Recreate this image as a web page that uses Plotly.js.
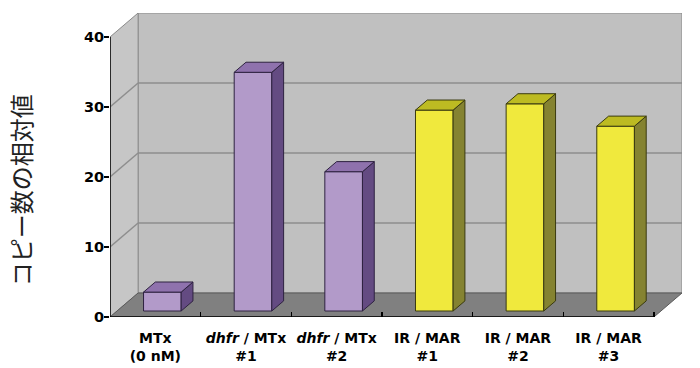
<!DOCTYPE html>
<html>
<head>
<meta charset="utf-8">
<script src="https://cdn.plot.ly/plotly-3.0.1.min.js"></script>
<style>html,body{margin:0;padding:0;background:#fff;}#chart{width:700px;height:368px;}</style>
</head>
<body>
<div id="chart"></div>
<script>
// ---- data ----
const categories = ["MTx<br>(0 nM)", "<i>dhfr</i> / MTx<br>#1", "<i>dhfr</i> / MTx<br>#2", "IR / MAR<br>#1", "IR / MAR<br>#2", "IR / MAR<br>#3"];
const values = [2.7, 34.1, 19.9, 28.7, 29.6, 26.4];
const groups = ["ctrl", "ctrl", "ctrl", "irmar", "irmar", "irmar"];
const yTicks = [0, 10, 20, 30, 40];
const yTitle = "コピー数の相対値";

// ---- styling / pseudo-3D geometry ----
const DX = 0.31, DY = 3.43;     // depth vector in data units
const F = 0.25, S = 0.42, W = 0.415;
const palette = {
  ctrl:  {front: "#b29ac9", top: "#8f72ad", side: "#644b82", edge: "#2e2240"},
  irmar: {front: "#f0e93d", top: "#bdbb22", side: "#858331", edge: "#3a3a10"}
};
const idx = categories.map((_, i) => i);
const yMax = yTicks[yTicks.length - 1];
const x0 = -0.5, x1 = categories.length - 0.5;

const traces = [];
traces.push({
  type: "bar",
  x: idx.map(i => i + F * DX),
  y: values,
  base: values.map(() => F * DY),
  width: W,
  marker: {
    color: groups.map(g => palette[g].front),
    line: {color: groups.map(g => palette[g].edge), width: 1}
  },
  hoverinfo: "skip", showlegend: false
});
values.forEach((v, i) => {
  const p = palette[groups[i]];
  const xl = i + F * DX - W / 2, xr = xl + W;
  const yb = F * DY, yt = F * DY + v;
  traces.push({
    type: "scatter", mode: "lines", fill: "toself", fillcolor: p.side,
    x: [xr, xr + S * DX, xr + S * DX, xr, xr],
    y: [yb, yb + S * DY, yt + S * DY, yt, yb],
    line: {color: p.edge, width: 1}, hoverinfo: "skip", showlegend: false
  });
  traces.push({
    type: "scatter", mode: "lines", fill: "toself", fillcolor: p.top,
    x: [xl, xr, xr + S * DX, xl + S * DX, xl],
    y: [yt, yt, yt + S * DY, yt + S * DY, yt],
    line: {color: p.edge, width: 1}, hoverinfo: "skip", showlegend: false
  });
});
// dummy trace to host the boundary tick axis
traces.push({type: "scatter", mode: "markers", x: [0], y: [0], xaxis: "x2",
  marker: {opacity: 0}, hoverinfo: "skip", showlegend: false});

const shapes = [];
// back wall
shapes.push({type: "path", layer: "below", xref: "x", yref: "y",
  path: `M ${x0+DX},${DY} L ${x1+DX},${DY} L ${x1+DX},${yMax+DY} L ${x0+DX},${yMax+DY} Z`,
  fillcolor: "#c0c0c0", line: {color: "#8a8a8a", width: 1}});
// side wall
shapes.push({type: "path", layer: "below", xref: "x", yref: "y",
  path: `M ${x0},0 L ${x0+DX},${DY} L ${x0+DX},${yMax+DY} L ${x0},${yMax} Z`,
  fillcolor: "#c6c6c6", line: {color: "#8a8a8a", width: 1}});
// floor
shapes.push({type: "path", layer: "below", xref: "x", yref: "y",
  path: `M ${x0},0 L ${x1},0 L ${x1+DX},${DY} L ${x0+DX},${DY} Z`,
  fillcolor: "#808080", line: {color: "#5a5a5a", width: 1}});
// gridlines
yTicks.slice(1, -1).forEach(t => {
  shapes.push({type: "line", layer: "below", xref: "x", yref: "y",
    x0: x0, y0: t, x1: x0 + DX, y1: t + DY, line: {color: "#8e8e8e", width: 1.5}});
  shapes.push({type: "line", layer: "below", xref: "x", yref: "y",
    x0: x0 + DX, y0: t + DY, x1: x1 + DX, y1: t + DY, line: {color: "#8e8e8e", width: 1.5}});
});
// axis lines
shapes.push({type: "line", xref: "x", yref: "y", x0: x0, y0: 0, x1: x0, y1: yMax, line: {color: "#000", width: 1.5}});
shapes.push({type: "line", xref: "x", yref: "y", x0: x0, y0: 0, x1: x1, y1: 0, line: {color: "#000", width: 1.5}});

const xr = [x0, x1 + DX];
const layout = {
  width: 700, height: 368,
  margin: {l: 110, r: 18, t: 13, b: 51},
  paper_bgcolor: "#fff", plot_bgcolor: "rgba(0,0,0,0)",
  showlegend: false,
  xaxis: {range: xr, tickvals: idx, ticktext: categories, ticks: "", showgrid: false, zeroline: false,
    showline: false, ticklabelstandoff: 11,
    tickfont: {family: "DejaVu Sans", size: 14, color: "#000", weight: "bold"}, fixedrange: true},
  xaxis2: {range: xr, overlaying: "x", anchor: "y", side: "bottom", tickvals: idx.map(i => i + 0.5),
    ticks: "inside", ticklen: 5, tickwidth: 1.2, tickcolor: "#000", showticklabels: false,
    showgrid: false, zeroline: false, showline: false},
  yaxis: {range: [0, yMax + DY], tickvals: yTicks, ticks: "outside", ticklen: 5, tickwidth: 1.2, tickcolor: "#000",
    showgrid: false, zeroline: false, showline: false, ticklabelstandoff: -3,
    tickfont: {family: "DejaVu Sans", size: 14.5, color: "#000", weight: "bold"}},
  shapes: shapes,
  annotations: [{text: yTitle, xref: "paper", yref: "paper", x: -0.155, y: 0.418, textangle: -90,
    showarrow: false, xanchor: "center", yanchor: "middle",
    font: {family: "Noto Sans CJK JP", size: 24, color: "#222"}}]
};
Plotly.newPlot("chart", traces, layout, {displayModeBar: false, staticPlot: true});
</script>
</body>
</html>
